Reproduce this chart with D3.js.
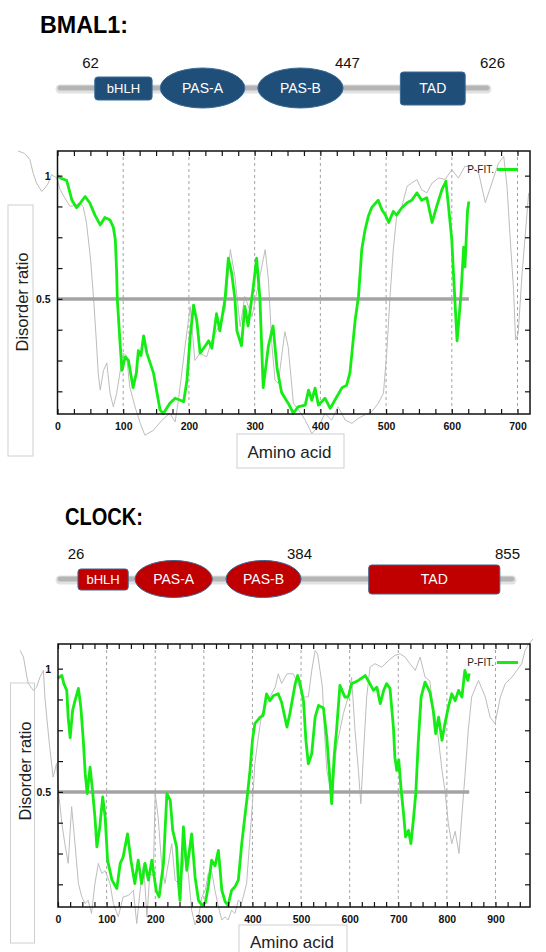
<!DOCTYPE html>
<html>
<head>
<meta charset="utf-8">
<script src="https://cdn.jsdelivr.net/npm/d3@7"></script>
<style>
  body { margin: 0; background: #fff; }
  svg { display: block; font-family: "Liberation Sans", Arial, sans-serif; }
</style>
</head>
<body>
<div id="chart"></div>
<script>
// ---- data: [residue, disorder ratio] ----
const bmalPfit = [[0,1.0],[5,0.99],[14,0.98],[18,0.94],[22,0.90],[29,0.87],[35,0.89],[42,0.915],[49,0.89],[57,0.84],[65,0.80],[72,0.83],[80,0.82],[85,0.79],[88,0.74],[90,0.61],[91,0.50],[95,0.33],[98,0.21],[103,0.265],[108,0.25],[115,0.14],[120,0.20],[123,0.29],[127,0.27],[131,0.35],[136,0.28],[146,0.20],[156,0.05],[161,0.035],[171,0.077],[179,0.097],[186,0.09],[192,0.083],[197,0.17],[202,0.35],[207,0.475],[212,0.41],[217,0.28],[225,0.31],[230,0.33],[235,0.30],[242,0.44],[247,0.37],[255,0.50],[260,0.665],[265,0.605],[270,0.50],[273,0.37],[280,0.31],[285,0.47],[290,0.39],[298,0.55],[303,0.665],[308,0.50],[313,0.14],[321,0.31],[328,0.39],[334,0.22],[341,0.12],[351,0.077],[359,0.036],[366,0.062],[377,0.069],[382,0.13],[387,0.089],[392,0.138],[397,0.069],[407,0.097],[415,0.056],[422,0.089],[433,0.14],[440,0.15],[445,0.2],[448,0.28],[453,0.415],[458,0.51],[463,0.70],[468,0.78],[473,0.835],[478,0.87],[488,0.90],[494,0.86],[499,0.84],[504,0.81],[511,0.855],[516,0.84],[524,0.87],[532,0.89],[539,0.90],[547,0.93],[554,0.90],[562,0.91],[570,0.81],[577,0.875],[585,0.943],[591,0.977],[595,0.875],[600,0.74],[603,0.58],[608,0.33],[610,0.39],[614,0.52],[618,0.71],[620,0.63],[624,0.86],[626,0.895]];

const bmalRef = [[-60,1.10],[-50,1.09],[-42,1.065],[-37,1.01],[-32,0.97],[-24,0.936],[-19,0.95],[-14,0.97],[-9,1.004],[-1,0.99],[4,0.943],[11,0.91],[19,0.875],[27,0.88],[34,0.89],[39,0.875],[44,0.81],[50,0.67],[55,0.50],[59,0.333],[62,0.198],[65,0.13],[70,0.21],[75,0.24],[80,0.117],[85,0.062],[90,0.117],[95,0.2],[100,0.28],[105,0.27],[110,0.143],[118,0.062],[126,-0.005],[133,-0.053],[146,-0.033],[159,0.008],[171,0.036],[179,0.001],[184,0.089],[194,0.306],[202,0.469],[209,0.25],[217,0.28],[227,0.265],[235,0.333],[245,0.387],[255,0.455],[263,0.70],[270,0.59],[278,0.387],[285,0.51],[296,0.428],[306,0.564],[316,0.70],[321,0.577],[326,0.32],[331,0.17],[336,0.157],[341,0.265],[346,0.367],[351,0.306],[359,0.076],[367,0.049],[377,0.008],[387,-0.046],[397,-0.019],[407,0.035],[417,0.008],[427,0.062],[438,0.008],[448,-0.005],[458,0.016],[468,0.03],[478,0.042],[488,0.076],[496,0.117],[501,0.28],[506,0.51],[511,0.70],[516,0.835],[524,0.875],[532,0.957],[539,0.97],[547,0.984],[554,0.943],[562,0.93],[570,0.97],[580,0.99],[590,0.985],[600,1.024],[610,0.99],[620,1.038],[630,1.038],[641,1.01],[651,0.89],[661,0.97],[671,1.05],[679,1.078],[684,0.957],[689,0.74],[694,0.537],[697,0.333],[701,0.36],[707,0.604],[712,0.767],[717,0.93]];

const clockPfit = [[0,0.96],[3,0.966],[8,0.972],[12,0.939],[18,0.912],[21,0.80],[25,0.72],[30,0.83],[35,0.87],[42,0.92],[47,0.844],[52,0.71],[56,0.574],[60,0.493],[66,0.60],[71,0.506],[76,0.398],[80,0.277],[86,0.358],[92,0.48],[97,0.398],[102,0.223],[111,0.142],[121,0.108],[128,0.21],[134,0.236],[143,0.33],[150,0.223],[158,0.128],[165,0.223],[172,0.128],[179,0.21],[186,0.142],[193,0.223],[202,0.10],[208,0.074],[217,0.21],[224,0.493],[231,0.466],[236,0.344],[244,0.277],[248,0.128],[251,0.06],[258,0.358],[265,0.182],[275,0.33],[282,0.155],[289,0.06],[296,0.04],[303,0.05],[309,0.115],[316,0.223],[323,0.20],[330,0.263],[337,0.101],[344,0.054],[350,0.04],[357,0.10],[364,0.115],[371,0.142],[378,0.29],[385,0.41],[390,0.493],[395,0.587],[400,0.709],[405,0.777],[416,0.803],[422,0.81],[429,0.898],[436,0.87],[443,0.89],[453,0.898],[460,0.864],[471,0.763],[477,0.817],[488,0.939],[493,0.972],[498,0.939],[505,0.87],[510,0.709],[515,0.614],[522,0.655],[529,0.803],[536,0.851],[546,0.84],[553,0.72],[558,0.587],[563,0.452],[568,0.641],[573,0.75],[580,0.932],[590,0.885],[597,0.885],[604,0.939],[618,0.952],[632,0.972],[638,0.952],[649,0.912],[656,0.925],[663,0.858],[670,0.912],[676,0.939],[683,0.92],[690,0.763],[693,0.641],[697,0.587],[701,0.63],[706,0.506],[711,0.41],[715,0.317],[721,0.344],[726,0.29],[731,0.385],[736,0.493],[741,0.696],[747,0.885],[755,0.945],[765,0.905],[772,0.83],[777,0.736],[783,0.803],[790,0.709],[796,0.777],[803,0.844],[810,0.898],[817,0.87],[824,0.912],[831,0.885],[837,0.993],[843,0.952],[846,0.98]];

const clockRef = [[-78,1.074],[-71,1.047],[-64,0.966],[-61,0.94],[-51,0.912],[-44,0.925],[-37,0.966],[-30,0.993],[-27,0.885],[-23,0.80],[-17,0.68],[-10,0.56],[-3,0.615],[1,0.5],[8,0.372],[14,0.29],[21,0.21],[28,0.44],[35,0.29],[42,0.128],[49,0.074],[56,0.047],[62,0.06],[69,0.007],[76,0.128],[83,0.21],[90,0.169],[97,0.18],[107,0.128],[114,0.047],[124,-0.007],[134,0.074],[145,0.08],[155,0.101],[162,-0.034],[169,0.10],[176,0.21],[183,-0.007],[189,0.169],[196,0.16],[200,0.493],[206,0.398],[213,0.21],[220,0.128],[227,0.21],[234,0.29],[241,0.142],[248,0.128],[255,0.169],[261,0.25],[268,0.17],[275,0.02],[282,-0.04],[289,-0.007],[296,0.074],[303,0.10],[309,0.169],[316,0.18],[323,0.10],[330,0.034],[337,-0.02],[344,-0.007],[350,-0.02],[357,0.02],[364,0.007],[371,0.06],[378,0.05],[388,0.128],[395,0.317],[400,0.452],[405,0.615],[412,0.72],[419,0.817],[426,0.844],[436,0.885],[447,0.925],[453,0.979],[460,0.94],[471,0.979],[484,0.979],[494,0.939],[505,0.885],[515,0.885],[522,0.993],[529,1.074],[534,1.06],[539,0.993],[544,0.925],[548,0.75],[553,0.587],[560,0.52],[567,0.56],[573,0.682],[580,0.75],[587,0.817],[597,0.885],[604,0.965],[611,0.75],[618,0.587],[623,0.452],[628,0.641],[635,0.885],[642,1.006],[652,1.02],[666,1.006],[680,1.033],[693,1.054],[704,1.06],[714,1.047],[724,1.02],[735,0.993],[745,1.047],[755,0.966],[765,0.95],[772,0.83],[779,0.777],[790,0.587],[796,0.506],[803,0.372],[810,0.29],[817,0.34],[825,0.25],[831,0.41],[837,0.56],[844,0.75],[851,0.885],[865,0.952],[879,0.885],[889,0.803],[899,0.777],[910,0.885],[920,0.939],[934,0.966],[944,0.993],[954,1.02],[961,1.074],[968,1.10],[977,1.12]];

// domain maps (residue numbers)
const bmalDomains = [
  {name: "bHLH", start: 51, end: 135},
  {name: "PAS-A", start: 147, end: 271},
  {name: "PAS-B", start: 290, end: 415},
  {name: "TAD", start: 499, end: 594}
];
const bmalMarks = [62, 447, 626];
const clockDomains = [
  {name: "bHLH", start: 34, end: 129},
  {name: "PAS-A", start: 142, end: 288},
  {name: "PAS-B", start: 314, end: 456},
  {name: "TAD", start: 584, end: 832}
];
const clockMarks = [26, 384, 855];

const yLabels = [0.5, 1];
const bmalXLabels = [0, 100, 200, 300, 400, 500, 600, 700];
const clockXLabels = [0, 100, 200, 300, 400, 500, 600, 700, 800, 900];
const cutoff = 0.5;

const width = 546, height = 952;
const GREEN = "#14ec14";

const svg = d3.select("#chart").append("svg")
  .attr("width", width)
  .attr("height", height);

// ---- protein domain diagram ----
function drawDomains(o) {
  const g = svg.append("g");
  const x = d3.scaleLinear().domain([0, o.length]).range([60, o.x1]);

  g.append("text")
    .attr("x", o.titleX).attr("y", o.titleY)
    .attr("font-size", 23).attr("font-weight", "bold")
    .attr("textLength", o.titleW).attr("lengthAdjust", "spacingAndGlyphs")
    .attr("fill", "#000")
    .text(o.title);

  // backbone with soft shadow
  g.append("line")
    .attr("x1", x(0)).attr("x2", x(o.length))
    .attr("y1", o.y + 1).attr("y2", o.y + 1)
    .attr("stroke", "#e2e2e2").attr("stroke-width", 9).attr("stroke-linecap", "round");
  g.append("line")
    .attr("x1", x(0)).attr("x2", x(o.length))
    .attr("y1", o.y).attr("y2", o.y)
    .attr("stroke", "#b5b5b5").attr("stroke-width", 5).attr("stroke-linecap", "round");

  o.domains.forEach(d => {
    const x0 = x(d.start), x1 = x(d.end), cx = (x0 + x1) / 2;
    if (d.name.startsWith("PAS")) {
      g.append("ellipse")
        .attr("cx", cx).attr("cy", o.y)
        .attr("rx", (x1 - x0) / 2).attr("ry", o.ry)
        .attr("fill", o.fill).attr("stroke", o.stroke).attr("stroke-width", 1);
    } else {
      const h = d.name === "TAD" ? o.tadH : o.bhlhH;
      g.append("rect")
        .attr("x", x0).attr("y", o.y - h / 2 + 0.5)
        .attr("width", x1 - x0).attr("height", h)
        .attr("rx", 3)
        .attr("fill", o.fill).attr("stroke", o.stroke).attr("stroke-width", 1);
    }
    g.append("text")
      .attr("x", cx).attr("y", o.y + 5)
      .attr("text-anchor", "middle")
      .attr("font-size", d.name === "bHLH" ? 13 : 14)
      .attr("fill", "#fff")
      .text(d.name);
  });

  g.selectAll(".mark")
    .data(o.marks)
    .enter().append("text")
      .attr("x", (d, i) => x(d) + o.markShift[i])
      .attr("y", o.y - 20)
      .attr("font-size", 15)
      .attr("fill", "#111")
      .text(d => d);
}

drawDomains({
  title: "BMAL1:", titleX: 40, titleY: 33, titleW: 88,
  length: 626, x1: 487, y: 88, ry: 20, bhlhH: 23, tadH: 33,
  domains: bmalDomains, marks: bmalMarks, markShift: [-20, -30, -7],
  fill: "#1f4e79", stroke: "#3b6a95"
});
drawDomains({
  title: "CLOCK:", titleX: 65, titleY: 525, titleW: 78,
  length: 855, x1: 512, y: 579, ry: 18.5, bhlhH: 21, tadH: 29,
  domains: clockDomains, marks: clockMarks, markShift: [-6, 24, -17],
  fill: "#c00000", stroke: "#41618a"
});

// ---- disorder profile panel ----
function drawPanel(o) {
  const g = svg.append("g");
  const x = d3.scaleLinear().domain([0, o.xMax]).range([o.left, o.right]);
  const y = d3.scaleLinear().domain([0.033, 1.1]).range([o.bottom, o.top]);

  // axis title boxes
  g.append("rect")
    .attr("x", o.yBox[0]).attr("y", o.yBox[1])
    .attr("width", o.yBox[2]).attr("height", o.yBox[3])
    .attr("fill", "#fff").attr("stroke", "#cfcfcf");
  g.append("text")
    .attr("transform", `translate(${o.yBox[0] + 20},${o.yTitleY}) rotate(-90)`)
    .attr("text-anchor", "middle")
    .attr("font-size", 16.5).attr("fill", "#222")
    .text("Disorder ratio");
  g.append("rect")
    .attr("x", o.xBox[0]).attr("y", o.xBox[1])
    .attr("width", o.xBox[2]).attr("height", o.xBox[3])
    .attr("fill", "#fff").attr("stroke", "#cfcfcf");
  g.append("text")
    .attr("x", o.xBox[0] + o.xBox[2] / 2 - 1).attr("y", o.xTitleY)
    .attr("text-anchor", "middle")
    .attr("font-size", 17).attr("fill", "#222")
    .text("Amino acid");

  // dashed verticals every 100
  g.selectAll(".grid")
    .data(o.xLabels.filter(v => v > 0))
    .enter().append("line")
      .attr("x1", d => x(d)).attr("x2", d => x(d))
      .attr("y1", o.top).attr("y2", o.bottom)
      .attr("stroke", "#8c8c8c").attr("stroke-width", 0.8)
      .attr("stroke-dasharray", "3,3");

  const line = d3.line().x(d => x(d[0])).y(d => y(d[1]));

  // second predictor trace (thin gray, not clipped)
  g.append("path")
    .attr("d", line(o.ref))
    .attr("fill", "none").attr("stroke", "#bdbdbd").attr("stroke-width", 1);

  // 0.5 cutoff
  g.append("line")
    .attr("x1", x(0)).attr("x2", x(o.cutoffEnd))
    .attr("y1", y(cutoff)).attr("y2", y(cutoff))
    .attr("stroke", "#a3a3a3").attr("stroke-width", 3.5);

  // P-FIT trace
  g.append("path")
    .attr("d", line(o.pfit))
    .attr("fill", "none").attr("stroke", GREEN)
    .attr("stroke-width", 2.8).attr("stroke-linejoin", "round");

  // frame
  g.append("rect")
    .attr("x", o.left).attr("y", o.top)
    .attr("width", o.right - o.left).attr("height", o.bottom - o.top)
    .attr("fill", "none").attr("stroke", "#111").attr("stroke-width", 1.5);

  // inward ticks on all four sides
  const xt = d3.range(0, o.xMax, 25);
  const yt = d3.range(0.125, 1.01, 0.125);
  const fmtX = v => (o.xLabels.includes(v) ? v : "");
  const fmtY = v => (yLabels.includes(v) ? (v === 1 ? "1" : "0.5") : "");

  const axB = g.append("g").attr("transform", `translate(0,${o.bottom})`)
    .call(d3.axisBottom(x).tickValues(xt).tickSizeInner(-5).tickSizeOuter(0).tickPadding(9).tickFormat(fmtX));
  const axT = g.append("g").attr("transform", `translate(0,${o.top})`)
    .call(d3.axisTop(x).tickValues(xt).tickSizeInner(-5).tickSizeOuter(0).tickFormat(""));
  const axL = g.append("g").attr("transform", `translate(${o.left},0)`)
    .call(d3.axisLeft(y).tickValues(yt).tickSizeInner(-5).tickSizeOuter(0).tickPadding(7).tickFormat(fmtY));
  const axR = g.append("g").attr("transform", `translate(${o.right},0)`)
    .call(d3.axisRight(y).tickValues(yt).tickSizeInner(-5).tickSizeOuter(0).tickFormat(""));

  [axB, axT, axL, axR].forEach(a => {
    a.select(".domain").remove();
    a.selectAll(".tick line").attr("stroke", "#111").attr("stroke-width", 1.2);
    a.selectAll("text")
      .attr("font-family", "Liberation Sans, Arial, sans-serif")
      .attr("font-size", 10.5).attr("font-weight", "bold").attr("fill", "#111");
  });

  // legend
  g.append("text")
    .attr("x", o.right - 36).attr("y", o.top + 22)
    .attr("text-anchor", "end")
    .attr("font-size", 10).attr("fill", "#222")
    .text("P-FIT.");
  g.append("line")
    .attr("x1", o.right - 33).attr("x2", o.right - 12)
    .attr("y1", o.top + 18.5).attr("y2", o.top + 18.5)
    .attr("stroke", GREEN).attr("stroke-width", 3);
}

drawPanel({
  left: 57.5, top: 151, right: 530, bottom: 414, xMax: 719,
  pfit: bmalPfit, ref: bmalRef, cutoffEnd: 626, xLabels: bmalXLabels,
  yBox: [8, 205, 25, 251], yTitleY: 302,
  xBox: [237, 434, 107, 34], xTitleY: 458
});
drawPanel({
  left: 58, top: 644, right: 530, bottom: 907, xMax: 971,
  pfit: clockPfit, ref: clockRef, cutoffEnd: 846, xLabels: clockXLabels,
  yBox: [10.5, 683, 24, 260], yTitleY: 771,
  xBox: [239, 925, 108, 40], xTitleY: 948
});
</script>
</body>
</html>
